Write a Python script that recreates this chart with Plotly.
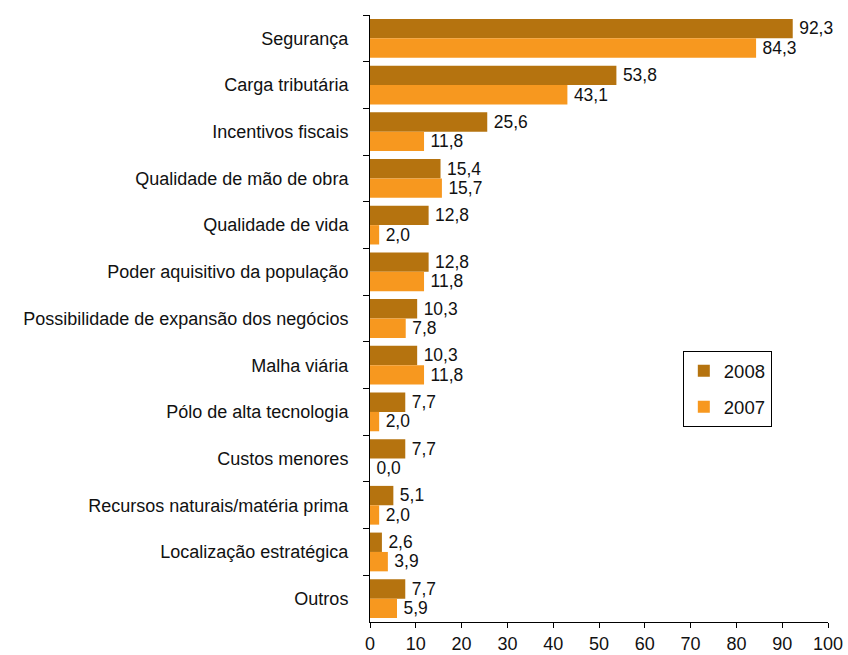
import plotly.graph_objects as go

categories = ["Segurança", "Carga tributária", "Incentivos fiscais", "Qualidade de mão de obra",
              "Qualidade de vida", "Poder aquisitivo da população",
              "Possibilidade de expansão dos negócios", "Malha viária", "Pólo de alta tecnologia",
              "Custos menores", "Recursos naturais/matéria prima", "Localização estratégica", "Outros"]
values_2008 = [92.3, 53.8, 25.6, 15.4, 12.8, 12.8, 10.3, 10.3, 7.7, 7.7, 5.1, 2.6, 7.7]
values_2007 = [84.3, 43.1, 11.8, 15.7, 2.0, 11.8, 7.8, 11.8, 2.0, 0.0, 2.0, 3.9, 5.9]
x_ticks = [0, 10, 20, 30, 40, 50, 60, 70, 80, 90, 100]

FAMILY = "Liberation Sans, Arial, sans-serif"
font = dict(family=FAMILY, size=18, color="#111111")

fig = go.Figure()
fig.add_trace(go.Bar(name="2008", y=categories, x=values_2008, orientation="h",
                     legendgroup="a",
                     marker=dict(color="#B5730F", line=dict(width=0)),
                     texttemplate="\u2009%{x:.1f}", textposition="outside", cliponaxis=False,
                     textfont=font))
fig.add_trace(go.Bar(name="2007", y=categories, x=values_2007, orientation="h",
                     legendgroup="b",
                     marker=dict(color="#F7981F", line=dict(width=0)),
                     texttemplate="\u2009%{x:.1f}", textposition="outside", cliponaxis=False,
                     textfont=font))

fig.update_layout(
    width=848, height=655,
    barmode="group", bargap=0.17, bargroupgap=0,
    separators=",.",
    paper_bgcolor="white", plot_bgcolor="white",
    margin=dict(l=370, r=20, t=15, b=33, autoexpand=False),
    font=font,
    showlegend=True,
    legend=dict(x=0.683, y=0.446, xanchor="left", yanchor="top",
                bordercolor="black", borderwidth=1, bgcolor="white",
                font=dict(family=FAMILY, size=18.5, color="#111111"),
                traceorder="grouped", tracegroupgap=9, itemwidth=30),
    xaxis=dict(range=[0, 100], tickvals=x_ticks, ticktext=[str(t) for t in x_ticks],
               automargin=False, ticklabeloverflow="allow",
               showgrid=False, zeroline=False, showline=True, linecolor="black", linewidth=1,
               ticks="outside", ticklen=5, tickcolor="black", tickfont=font),
    yaxis=dict(autorange="reversed", automargin=False,
               showgrid=False, showline=True, linecolor="black", linewidth=1,
               ticks="outside", ticklen=6, tickcolor="black", tickson="boundaries",
               tickfont=font, ticklabelstandoff=17),
)

fig.write_html("out.html", config={"displayModeBar": False},
               post_script="document.body.style.margin='0';document.body.style.overflow='hidden';")
